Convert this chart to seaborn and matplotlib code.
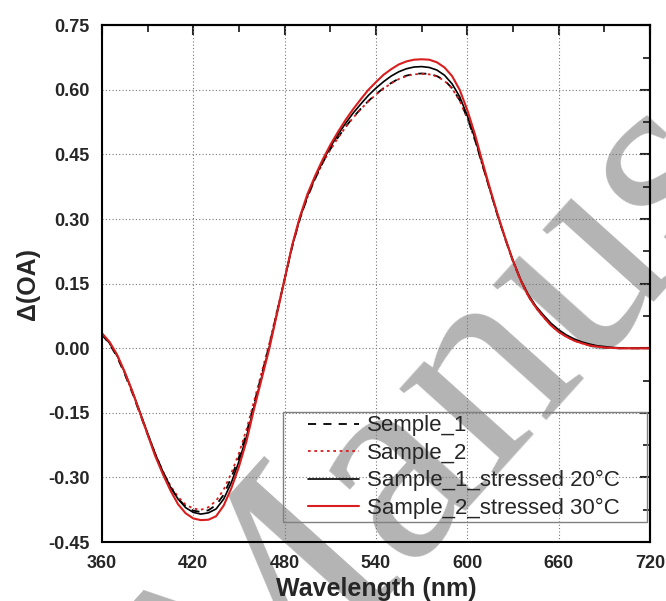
import matplotlib
matplotlib.use('Agg')
import matplotlib.pyplot as plt
import seaborn as sns
from matplotlib.patches import Rectangle
from matplotlib.ticker import MultipleLocator, FormatStrFormatter

# wavelength grid (nm)
wavelength = list(range(360, 725, 5))

# Semple_1 (black dashed)
sample_1 = [
    0.032, 0.010, -0.020, -0.060, -0.104, -0.152, -0.200, -0.246, -0.287, -0.322,
    -0.349, -0.367, -0.377, -0.380, -0.376, -0.364, -0.340, -0.300, -0.253, -0.196,
    -0.128, -0.060, 0.008, 0.084, 0.160, 0.236, 0.300, 0.351, 0.393, 0.431,
    0.462, 0.489, 0.514, 0.536, 0.556, 0.574, 0.590, 0.604, 0.616, 0.626,
    0.633, 0.637, 0.638, 0.637, 0.632, 0.622, 0.604, 0.576, 0.535, 0.484,
    0.425, 0.366, 0.307, 0.253, 0.202, 0.158, 0.122, 0.095, 0.073, 0.054,
    0.039, 0.028, 0.019, 0.012, 0.007, 0.004, 0.002, 0.001, 0.000, 0.000,
    0.000, 0.000, 0.000,
]

# Sample_2 (red dotted)
sample_2 = [
    0.035, 0.012, -0.018, -0.058, -0.102, -0.150, -0.198, -0.244, -0.285, -0.319,
    -0.345, -0.363, -0.372, -0.375, -0.369, -0.354, -0.328, -0.290, -0.244, -0.188,
    -0.122, -0.055, 0.012, 0.087, 0.162, 0.237, 0.300, 0.351, 0.393, 0.430,
    0.461, 0.488, 0.513, 0.535, 0.555, 0.573, 0.589, 0.603, 0.615, 0.625,
    0.632, 0.636, 0.637, 0.636, 0.631, 0.621, 0.603, 0.575, 0.534, 0.483,
    0.424, 0.365, 0.306, 0.252, 0.201, 0.157, 0.121, 0.094, 0.072, 0.053,
    0.038, 0.027, 0.018, 0.012, 0.007, 0.004, 0.002, 0.001, 0.000, 0.000,
    0.000, 0.000, 0.000,
]

# Sample_1_stressed 20°C (black solid)
sample_1_20 = [
    0.033, 0.012, -0.017, -0.056, -0.100, -0.148, -0.197, -0.245, -0.286, -0.322,
    -0.350, -0.370, -0.381, -0.385, -0.382, -0.373, -0.350, -0.312, -0.263, -0.205,
    -0.135, -0.066, 0.004, 0.082, 0.160, 0.238, 0.302, 0.354, 0.396, 0.434,
    0.467, 0.496, 0.522, 0.546, 0.567, 0.587, 0.604, 0.619, 0.632, 0.642,
    0.649, 0.653, 0.654, 0.652, 0.646, 0.634, 0.614, 0.584, 0.540, 0.488,
    0.427, 0.367, 0.308, 0.254, 0.204, 0.160, 0.125, 0.098, 0.077, 0.058,
    0.043, 0.031, 0.022, 0.015, 0.010, 0.006, 0.004, 0.002, 0.001, 0.000,
    0.000, 0.000, 0.000,
]

# Sample_2_stressed 30°C (red solid)
sample_2_30 = [
    0.035, 0.015, -0.015, -0.055, -0.100, -0.150, -0.200, -0.250, -0.292, -0.330,
    -0.362, -0.383, -0.395, -0.399, -0.398, -0.390, -0.365, -0.325, -0.275, -0.215,
    -0.140, -0.070, 0.000, 0.080, 0.160, 0.240, 0.305, 0.358, 0.400, 0.438,
    0.472, 0.502, 0.530, 0.555, 0.578, 0.600, 0.618, 0.635, 0.648, 0.659,
    0.666, 0.670, 0.671, 0.670, 0.664, 0.652, 0.632, 0.600, 0.553, 0.497,
    0.432, 0.370, 0.310, 0.255, 0.203, 0.158, 0.122, 0.095, 0.073, 0.053,
    0.038, 0.027, 0.018, 0.012, 0.007, 0.004, 0.002, 0.001, 0.000, 0.000,
    0.000, 0.000, 0.000,
]

RED = '#d81e1e'

sns.set_style('white')
plt.rcParams['font.family'] = ['Liberation Sans', 'DejaVu Sans']

fig = plt.figure(figsize=(6.66, 6.01), dpi=100)
ax = fig.add_axes([0.153, 0.098, 0.823, 0.860])
ax.patch.set_alpha(0)

sns.lineplot(x=wavelength, y=sample_1, ax=ax, color='black', lw=1.3,
             linestyle=(0, (4.5, 4)), label='Semple_1')
sns.lineplot(x=wavelength, y=sample_2, ax=ax, color=RED, lw=1.3,
             linestyle=(0, (1.5, 2)), label='Sample_2')
sns.lineplot(x=wavelength, y=sample_1_20, ax=ax, color='black', lw=1.2,
             label='Sample_1_stressed 20°C')
sns.lineplot(x=wavelength, y=sample_2_30, ax=ax, color=RED, lw=1.5,
             label='Sample_2_stressed 30°C')

ax.set_xlim(360, 720)
ax.set_ylim(-0.45, 0.75)
ax.xaxis.set_major_locator(MultipleLocator(60))
ax.xaxis.set_minor_locator(MultipleLocator(30))
ax.yaxis.set_major_locator(MultipleLocator(0.15))
ax.yaxis.set_minor_locator(MultipleLocator(0.075))
ax.yaxis.set_major_formatter(FormatStrFormatter('%.2f'))

ax.grid(True, which='major', color='#777777', linestyle=(0, (1, 2)), lw=0.8)
for s in ax.spines.values():
    s.set_linewidth(1.5)
    s.set_color('black')

ax.tick_params(which='major', direction='inout', length=14, width=1.5,
               labelsize=13, pad=2, top=False, right=False)
ax.tick_params(which='minor', direction='inout', length=8, width=1.3,
               top=False, right=False)
for lab in ax.get_xticklabels() + ax.get_yticklabels():
    lab.set_fontweight('bold')

# inward ticks on top and right
top = ax.secondary_xaxis('top')
top.xaxis.set_major_locator(MultipleLocator(60))
top.xaxis.set_minor_locator(MultipleLocator(30))
top.tick_params(which='major', direction='in', length=7, width=1.5, labeltop=False)
top.tick_params(which='minor', direction='in', length=5, width=1.3)
top.spines['top'].set_linewidth(1.5)
right = ax.secondary_yaxis('right')
right.yaxis.set_major_locator(MultipleLocator(0.15))
right.yaxis.set_minor_locator(MultipleLocator(0.075))
right.tick_params(which='major', direction='in', length=7, width=1.5, labelright=False)
right.tick_params(which='minor', direction='in', length=5, width=1.3)
right.spines['right'].set_linewidth(1.5)

ax.set_xlabel('Wavelength (nm)', fontsize=18, fontweight='bold', labelpad=4)
ax.set_ylabel('Δ(OA)', fontsize=18, fontweight='bold', labelpad=6)

# legend entries without frame, frame drawn as a box around them
leg = ax.legend(loc='upper left', bbox_to_anchor=(0.376, 0.245), fontsize=16,
                frameon=False, handlelength=2.3, handletextpad=0.35,
                labelspacing=0.29, borderpad=0, borderaxespad=0)
ax.add_patch(Rectangle((0.330, 0.039), 0.665, 0.213, transform=ax.transAxes,
                       fill=False, edgecolor='#808080', lw=1.0, zorder=5))

# gray watermark behind the plot
fig.text(0.355, -0.258, 'Manuscript', rotation=48, rotation_mode='anchor',
         ha='left', va='baseline', fontsize=205, color='#b4b4b4',
         family='Liberation Serif', zorder=-1)

fig.savefig('out.png', dpi=100)
